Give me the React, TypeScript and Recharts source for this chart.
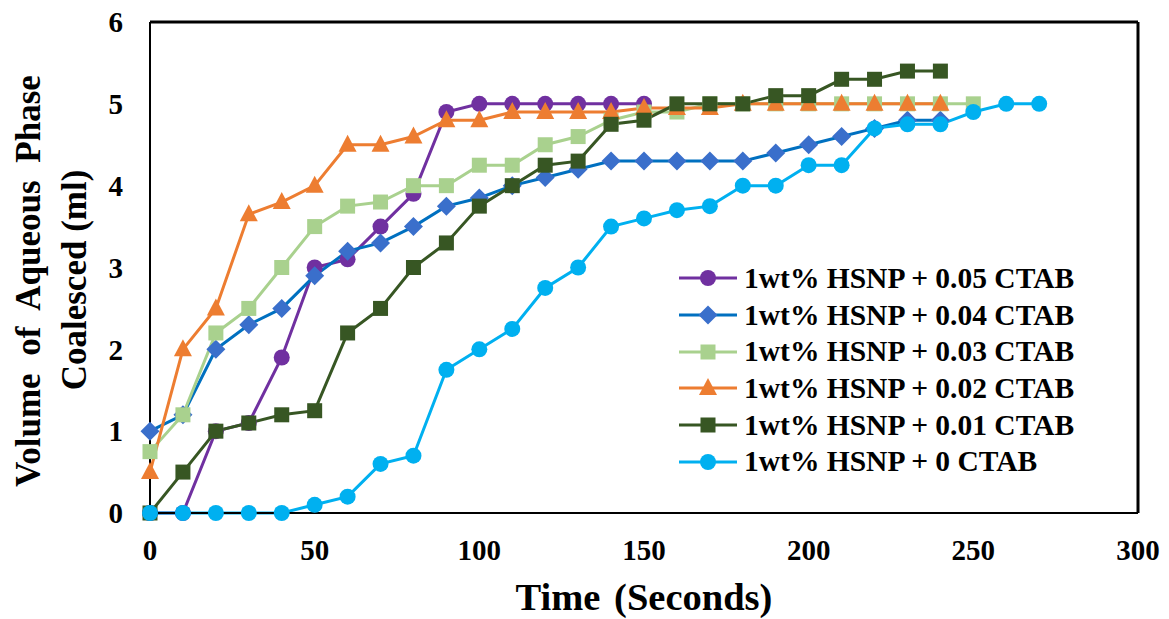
import React from "react";
import {
  Customized,
  Legend,
  Line,
  LineChart,
  ReferenceLine,
  XAxis,
  YAxis
} from "recharts";

const TIME = [0, 10, 20, 30, 40, 50, 60, 70, 80, 90, 100, 110, 120, 130, 140, 150, 160, 170, 180, 190, 200, 210, 220, 230, 240, 250, 260, 270];

const CTAB_005 = [0, 0, 1.0, 1.1, 1.9, 3.0, 3.1, 3.5, 3.9, 4.9, 5.0, 5.0, 5.0, 5.0, 5.0, 5.0];
const CTAB_004 = [1.0, 1.2, 2.0, 2.3, 2.5, 2.9, 3.2, 3.3, 3.5, 3.75, 3.85, 4.0, 4.1, 4.2, 4.3, 4.3, 4.3, 4.3, 4.3, 4.4, 4.5, 4.6, 4.7, 4.8, 4.8];
const CTAB_003 = [0.75, 1.2, 2.2, 2.5, 3.0, 3.5, 3.75, 3.8, 4.0, 4.0, 4.25, 4.25, 4.5, 4.6, 4.8, 4.9, 4.9, 5.0, 5.0, 5.0, 5.0, 5.0, 5.0, 5.0, 5.0, 5.0];
const CTAB_002 = [0.5, 2.0, 2.5, 3.65, 3.8, 4.0, 4.5, 4.5, 4.6, 4.8, 4.8, 4.9, 4.9, 4.9, 4.9, 4.95, 4.95, 4.95, 5.0, 5.0, 5.0, 5.0, 5.0, 5.0, 5.0];
const CTAB_001 = [0, 0.5, 1.0, 1.1, 1.2, 1.25, 2.2, 2.5, 3.0, 3.3, 3.75, 4.0, 4.25, 4.3, 4.75, 4.8, 5.0, 5.0, 5.0, 5.1, 5.1, 5.3, 5.3, 5.4, 5.4];
const CTAB_000 = [0, 0, 0, 0, 0, 0.1, 0.2, 0.6, 0.7, 1.75, 2.0, 2.25, 2.75, 3.0, 3.5, 3.6, 3.7, 3.75, 4.0, 4.0, 4.25, 4.25, 4.7, 4.75, 4.75, 4.9, 5.0, 5.0];

const X_TICKS = [0, 50, 100, 150, 200, 250, 300];
const Y_TICKS = [0, 1, 2, 3, 4, 5, 6];

const FONT = '"Liberation Serif", "Times New Roman", serif';

type Shape = "circle" | "diamond" | "square" | "triangle";

const SERIES: { name: string; values: number[]; stroke: string; fill: string; shape: Shape }[] = [
  { name: "1wt% HSNP + 0.05 CTAB", values: CTAB_005, stroke: "#7030A0", fill: "#7030A0", shape: "circle" },
  { name: "1wt% HSNP + 0.04 CTAB", values: CTAB_004, stroke: "#0070C0", fill: "#3A6FCB", shape: "diamond" },
  { name: "1wt% HSNP + 0.03 CTAB", values: CTAB_003, stroke: "#A9D18E", fill: "#A9D18E", shape: "square" },
  { name: "1wt% HSNP + 0.02 CTAB", values: CTAB_002, stroke: "#ED7D31", fill: "#ED7D31", shape: "triangle" },
  { name: "1wt% HSNP + 0.01 CTAB", values: CTAB_001, stroke: "#375623", fill: "#375623", shape: "square" },
  { name: "1wt% HSNP + 0 CTAB", values: CTAB_000, stroke: "#00B0F0", fill: "#00B0F0", shape: "circle" }
];

function Marker({ cx, cy, shape, fill }: { cx: number; cy: number; shape: Shape; fill: string }) {
  if (shape === "circle") return <circle cx={cx} cy={cy} r={8} fill={fill} />;
  if (shape === "diamond")
    return <polygon points={`${cx},${cy - 9.5} ${cx + 9.5},${cy} ${cx},${cy + 9.5} ${cx - 9.5},${cy}`} fill={fill} />;
  if (shape === "square") return <rect x={cx - 7.5} y={cy - 7.5} width={15} height={15} fill={fill} />;
  return <polygon points={`${cx},${cy - 10} ${cx + 9},${cy + 7} ${cx - 9},${cy + 7}`} fill={fill} />;
}

function makeDot(shape: Shape, fill: string) {
  return (props: any) => {
    const { cx, cy, index } = props;
    if (cx == null || cy == null) return <g key={index} />;
    return <Marker key={index} cx={cx} cy={cy} shape={shape} fill={fill} />;
  };
}

function LegendBox() {
  return (
    <div style={{ fontFamily: FONT }}>
      {SERIES.map(s => (
        <div key={s.name} style={{ display: "flex", alignItems: "center", height: 36.7 }}>
          <svg width={60} height={24} style={{ marginRight: 5 }}>
            <line x1={0} y1={12} x2={58} y2={12} stroke={s.stroke} strokeWidth={3} />
            <Marker cx={29} cy={12} shape={s.shape} fill={s.fill} />
          </svg>
          <span style={{ fontSize: 29.5, fontWeight: "bold", color: "#000", whiteSpace: "nowrap" }}>{s.name}</span>
        </div>
      ))}
    </div>
  );
}

function Titles() {
  return (
    <g fontFamily={FONT} fontWeight="bold" fill="#000">
      <text x={644} y={610} fontSize={38.5} textAnchor="middle" wordSpacing={4}>Time (Seconds)</text>
      <text x={0} y={0} fontSize={35} textAnchor="middle" wordSpacing={9} transform="translate(40,281) rotate(-90)">
        Volume of Aqueous Phase
      </text>
      <text x={0} y={0} fontSize={35} textAnchor="middle" transform="translate(86,280) rotate(-90)">
        Coalesced (ml)
      </text>
    </g>
  );
}

export default function App() {
  return (
    <div style={{ position: "absolute", left: 0, top: 0, background: "#fff" }}>
      <LineChart width={1169} height={619} margin={{ top: 22, right: 31, left: 110, bottom: 66 }}>
        <XAxis
          type="number"
          dataKey="t"
          domain={[0, 300]}
          ticks={X_TICKS}
          height={40}
          axisLine={{ stroke: "#000", strokeWidth: 2 }}
          tickLine={false}
          tickSize={6}
          tickMargin={20}
          tick={{ fill: "#000", fontSize: 29, fontWeight: "bold", fontFamily: FONT }}
        />
        <YAxis
          type="number"
          domain={[0, 6]}
          ticks={Y_TICKS}
          width={40}
          axisLine={{ stroke: "#000", strokeWidth: 2 }}
          tickLine={false}
          tickSize={6}
          tickMargin={21}
          tick={{ fill: "#000", fontSize: 29, fontWeight: "bold", fontFamily: FONT }}
        />
        <ReferenceLine y={6} stroke="#000" strokeWidth={3} />
        <ReferenceLine x={300} stroke="#000" strokeWidth={3} />
        {SERIES.map(s => (
          <Line
            key={s.name}
            data={s.values.map((v, i) => ({ t: TIME[i], v }))}
            dataKey="v"
            name={s.name}
            stroke={s.stroke}
            strokeWidth={3}
            dot={makeDot(s.shape, s.fill)}
            activeDot={false}
            isAnimationActive={false}
          />
        ))}
        <Legend
          layout="vertical"
          align="center"
          verticalAlign="middle"
          content={() => <LegendBox />}
          wrapperStyle={{ left: 679, top: 260, width: "auto" }}
        />
        <Customized component={Titles} />
      </LineChart>
    </div>
  );
}
